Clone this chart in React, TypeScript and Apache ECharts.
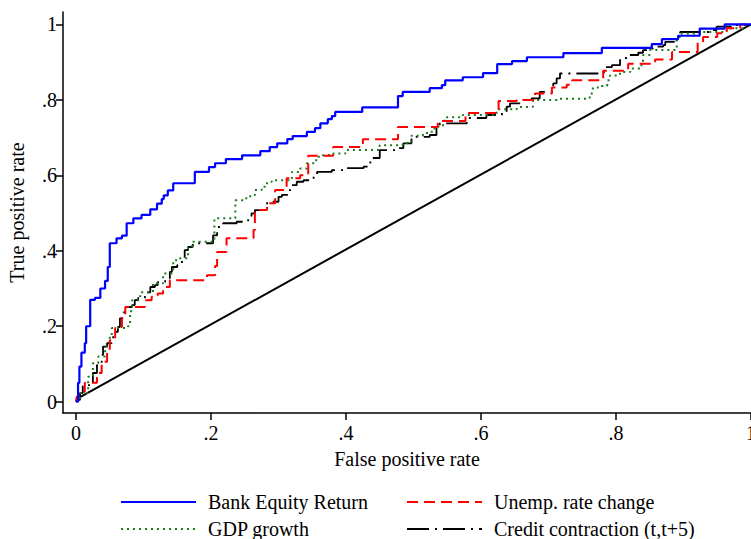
import React, { useEffect, useRef } from "react";
import * as echarts from "echarts";

const tickValues = [0, 0.2, 0.4, 0.6, 0.8, 1];
const seriesNames = ["Bank Equity Return", "Unemp. rate change", "GDP growth", "Credit contraction (t,t+5)"];

const bankEquity: number[][] = [
  [0, 0], [0.003, 0.05], [0.005, 0.093], [0.008, 0.13], [0.013, 0.155], [0.015, 0.2], [0.021, 0.27],
  [0.028, 0.275], [0.036, 0.3], [0.043, 0.32], [0.047, 0.357], [0.05, 0.42], [0.06, 0.433], [0.068, 0.44],
  [0.075, 0.473], [0.085, 0.486], [0.097, 0.495], [0.11, 0.51], [0.12, 0.525], [0.127, 0.537], [0.13, 0.547],
  [0.136, 0.56], [0.144, 0.579], [0.176, 0.609], [0.197, 0.622], [0.206, 0.632], [0.222, 0.643], [0.246, 0.653],
  [0.273, 0.664], [0.287, 0.675], [0.298, 0.685], [0.313, 0.696], [0.321, 0.704], [0.342, 0.715], [0.354, 0.725],
  [0.362, 0.738], [0.373, 0.749], [0.379, 0.757], [0.384, 0.768], [0.424, 0.78], [0.477, 0.81], [0.484, 0.821],
  [0.524, 0.831], [0.542, 0.839], [0.547, 0.852], [0.573, 0.86], [0.603, 0.871], [0.624, 0.895], [0.646, 0.903],
  [0.668, 0.913], [0.722, 0.924], [0.779, 0.938], [0.853, 0.948], [0.868, 0.961], [0.892, 0.97], [0.924, 0.989],
  [0.961, 1.0], [1, 1],
];

const unempChange: number[][] = [
  [0, 0], [0.001, 0.013], [0.003, 0.026], [0.013, 0.05], [0.031, 0.076], [0.038, 0.106], [0.046, 0.129],
  [0.05, 0.163], [0.058, 0.198], [0.068, 0.234], [0.073, 0.251], [0.102, 0.269], [0.112, 0.278], [0.121, 0.287],
  [0.129, 0.304], [0.139, 0.322], [0.194, 0.335], [0.206, 0.36], [0.209, 0.397], [0.223, 0.433], [0.263, 0.455],
  [0.265, 0.508], [0.283, 0.526], [0.295, 0.561], [0.312, 0.592], [0.332, 0.6], [0.344, 0.652], [0.381, 0.675],
  [0.425, 0.696], [0.477, 0.728], [0.536, 0.744], [0.577, 0.765], [0.626, 0.797], [0.653, 0.8], [0.68, 0.817],
  [0.705, 0.833], [0.727, 0.84], [0.735, 0.852], [0.781, 0.877], [0.818, 0.896], [0.858, 0.907], [0.883, 0.927],
  [0.921, 0.953], [0.929, 0.967], [0.95, 0.977], [0.964, 0.99], [0.984, 1.0], [1, 1],
];

const gdpGrowth: number[][] = [
  [0, 0], [0.001, 0.005], [0.006, 0.023], [0.018, 0.066], [0.025, 0.102], [0.033, 0.12], [0.043, 0.146],
  [0.05, 0.172], [0.053, 0.195], [0.077, 0.2], [0.08, 0.24], [0.083, 0.269], [0.095, 0.29], [0.114, 0.314],
  [0.129, 0.34], [0.144, 0.375], [0.154, 0.38], [0.166, 0.41], [0.172, 0.424], [0.205, 0.486], [0.236, 0.534],
  [0.248, 0.539], [0.258, 0.548], [0.265, 0.561], [0.275, 0.57], [0.283, 0.583], [0.29, 0.587], [0.315, 0.592],
  [0.32, 0.609], [0.332, 0.618], [0.342, 0.632], [0.354, 0.64], [0.359, 0.649], [0.366, 0.654], [0.381, 0.658],
  [0.399, 0.667], [0.45, 0.68], [0.484, 0.686], [0.497, 0.705], [0.514, 0.712], [0.527, 0.724], [0.537, 0.733],
  [0.546, 0.754], [0.573, 0.76], [0.623, 0.775], [0.653, 0.781], [0.668, 0.782], [0.677, 0.8], [0.712, 0.803],
  [0.761, 0.812], [0.764, 0.83], [0.773, 0.837], [0.787, 0.852], [0.791, 0.865], [0.806, 0.874], [0.821, 0.883],
  [0.836, 0.892], [0.84, 0.919], [0.85, 0.932], [0.89, 0.967], [0.895, 0.976], [0.924, 0.98], [0.964, 0.99],
  [0.988, 0.998], [1, 1],
];

const creditContraction: number[][] = [
  [0, 0], [0.001, 0.005], [0.006, 0.023], [0.01, 0.044], [0.021, 0.052], [0.025, 0.076], [0.031, 0.097],
  [0.038, 0.124], [0.04, 0.146], [0.046, 0.155], [0.053, 0.163], [0.055, 0.185], [0.062, 0.198], [0.065, 0.221],
  [0.07, 0.237], [0.073, 0.251], [0.083, 0.256], [0.087, 0.269], [0.092, 0.275], [0.102, 0.29], [0.11, 0.304],
  [0.117, 0.309], [0.121, 0.317], [0.132, 0.322], [0.136, 0.327], [0.139, 0.344], [0.142, 0.357], [0.15, 0.362],
  [0.157, 0.38], [0.161, 0.402], [0.166, 0.41], [0.173, 0.42], [0.203, 0.441], [0.209, 0.463], [0.218, 0.473],
  [0.238, 0.477], [0.255, 0.49], [0.26, 0.499], [0.265, 0.508], [0.283, 0.53], [0.3, 0.543], [0.305, 0.548],
  [0.315, 0.561], [0.32, 0.574], [0.327, 0.583], [0.337, 0.587], [0.352, 0.601], [0.357, 0.609], [0.379, 0.614],
  [0.401, 0.619], [0.426, 0.623], [0.436, 0.646], [0.45, 0.667], [0.475, 0.672], [0.485, 0.685], [0.497, 0.702],
  [0.524, 0.707], [0.534, 0.729], [0.539, 0.738], [0.564, 0.738], [0.579, 0.752], [0.608, 0.76], [0.631, 0.768],
  [0.638, 0.782], [0.643, 0.791], [0.662, 0.8], [0.675, 0.804], [0.687, 0.821], [0.699, 0.821], [0.707, 0.844],
  [0.712, 0.857], [0.717, 0.87], [0.776, 0.874], [0.784, 0.887], [0.794, 0.892], [0.806, 0.911], [0.816, 0.919],
  [0.833, 0.925], [0.84, 0.932], [0.853, 0.936], [0.858, 0.941], [0.87, 0.945], [0.873, 0.954], [0.892, 0.967],
  [0.895, 0.98], [0.939, 0.985], [0.949, 0.994], [0.979, 0.998], [1, 1],
];

const referenceLine: number[][] = [[0.006, 0.012], [1, 1]];

const FONT = "'Liberation Serif', 'Times New Roman', serif";

const fmt = (v: number) => {
  if (Math.abs(v) < 1e-9) return "0";
  if (Math.abs(v - 1) < 1e-9) return "1";
  return String(Number(v.toFixed(1))).replace(/^0\./, ".");
};

export default function App() {
  const ref = useRef<HTMLDivElement>(null);
  useEffect(() => {
    if (!ref.current) return;
    const chart = echarts.init(ref.current, null, { renderer: "svg" });
    const axisCommon = {
      type: "value" as const,
      splitLine: { show: false },
      axisLine: { show: true, onZero: false, lineStyle: { color: "#000", width: 1.5 } },
      axisTick: { show: true, length: 7, customValues: tickValues, lineStyle: { color: "#000", width: 1.5 } },
      axisLabel: {
        customValues: tickValues,
        formatter: (v: number) => fmt(v),
        color: "#000",
        fontFamily: FONT,
        fontSize: 20,
        hideOverlap: false,
      },
      nameMoveOverlap: false,
      nameTextStyle: { color: "#000", fontFamily: FONT, fontSize: 20 },
    };
    const legendCommon = {
      orient: "horizontal" as const,
      padding: 0,
      itemWidth: 75,
      itemHeight: 20,
      selectedMode: false,
      itemStyle: { opacity: 0 },
      textStyle: { color: "#000", fontFamily: FONT, fontSize: 20, padding: [0, 0, 0, 7] },
    };
    chart.setOption({
      animation: false,
      backgroundColor: "#fff",
      textStyle: { fontFamily: FONT },
      grid: { left: 63, right: 0, top: 12, bottom: 126, containLabel: false, outerBoundsMode: "none" },
      xAxis: {
        ...axisCommon,
        min: -0.0193,
        max: 1,
        name: "False positive rate",
        nameLocation: "middle",
        nameGap: 36,
        axisLabel: { ...axisCommon.axisLabel, margin: 10 },
      },
      yAxis: {
        ...axisCommon,
        min: -0.03,
        max: 1.033,
        name: "True positive rate",
        nameLocation: "middle",
        nameRotate: 90,
        nameGap: 36,
        axisLabel: { ...axisCommon.axisLabel, margin: 6 },
      },
      legend: [
        { ...legendCommon, data: [seriesNames[0]], left: 120, top: 492 },
        { ...legendCommon, data: [seriesNames[2]], left: 120, top: 519 },
        { ...legendCommon, data: [seriesNames[1]], left: 406, top: 492 },
        { ...legendCommon, data: [seriesNames[3]], left: 406, top: 519 },
      ],
      series: [
        {
          name: "Reference",
          type: "line",
          data: referenceLine,
          showSymbol: false,
          symbol: "none",
          lineStyle: { color: "#000", width: 2 },
          z: 1,
        },
        {
          name: seriesNames[3],
          type: "line",
          data: creditContraction,
          step: "end",
          symbol: "none",
          itemStyle: { color: "#000" },
          lineStyle: { color: "#000", width: 1.8, type: [22, 6, 2, 6] },
          z: 2,
        },
        {
          name: seriesNames[2],
          type: "line",
          data: gdpGrowth,
          step: "end",
          symbol: "none",
          itemStyle: { color: "#1c7a1c" },
          lineStyle: { color: "#1c7a1c", width: 2, type: [2, 4] },
          z: 3,
        },
        {
          name: seriesNames[1],
          type: "line",
          data: unempChange,
          step: "end",
          symbol: "none",
          itemStyle: { color: "#ff0000" },
          lineStyle: { color: "#ff0000", width: 2, type: [11, 6] },
          z: 4,
        },
        {
          name: seriesNames[0],
          type: "line",
          data: bankEquity,
          step: "end",
          symbol: "none",
          itemStyle: { color: "#0000ff" },
          lineStyle: { color: "#0000ff", width: 2.2 },
          z: 5,
        },
      ],
    });
    return () => chart.dispose();
  }, []);
  return <div ref={ref} style={{ width: 751, height: 539, position: "absolute", left: 0, top: 0 }} />;
}
